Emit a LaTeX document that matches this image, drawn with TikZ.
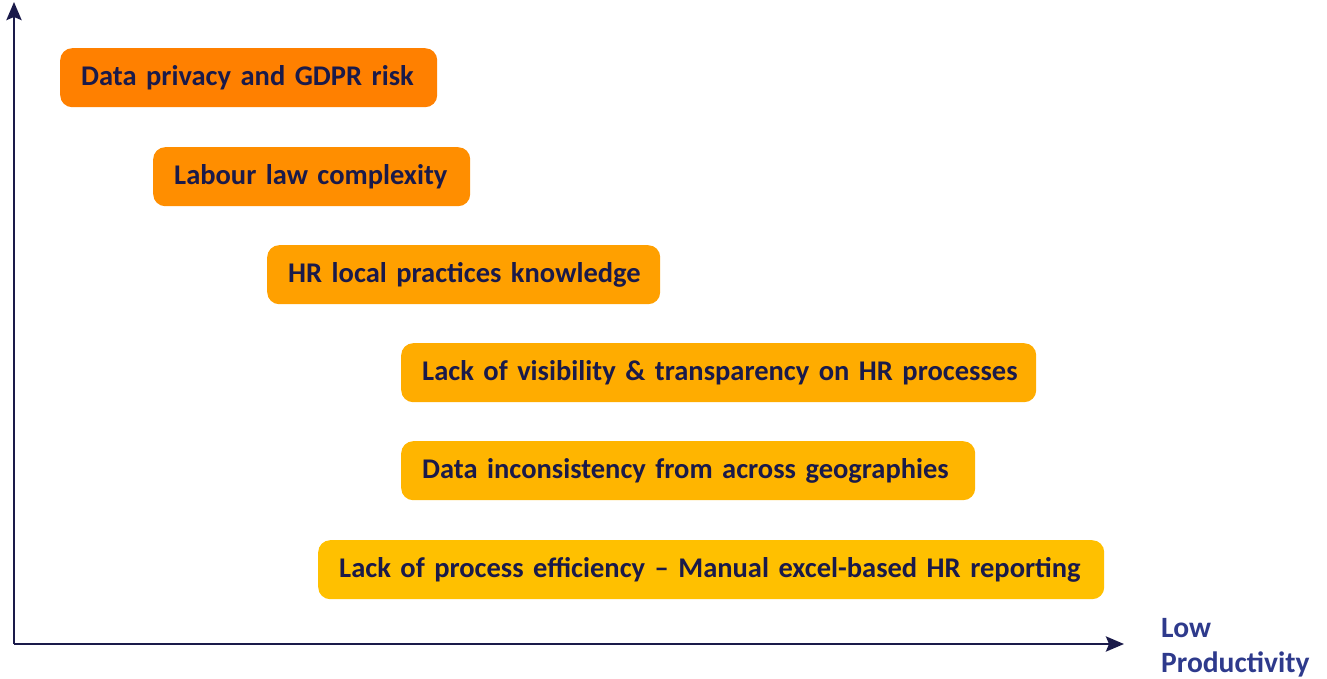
\documentclass[tikz,border=0pt]{standalone}
\usepackage{fontspec}
\setmainfont{Carlito}
\usetikzlibrary{arrows.meta}
\definecolor{ink}{HTML}{1A1A4A}
\definecolor{labelblue}{HTML}{2E3A8C}
\definecolor{c1}{HTML}{FF8000}
\definecolor{c2}{HTML}{FF8E00}
\definecolor{c3}{HTML}{FFA000}
\definecolor{c4}{HTML}{FFAC00}
\definecolor{c5}{HTML}{FFB500}
\definecolor{c6}{HTML}{FFC000}
\begin{document}
\begin{tikzpicture}[x=1pt,y=-1pt,
  issue/.style={rounded corners=12pt, anchor=north west, minimum height=59pt,
    inner xsep=21pt, inner ysep=0pt, align=left, text=ink,
    font=\fontsize{28.5}{32}\selectfont\bfseries},
  axis/.style={draw=ink, line width=2.8pt, -{Stealth[length=18pt,width=15pt,inset=3pt]}}]
\useasboundingbox (0,0) rectangle (1327,679);
% axes
\coordinate (origin) at (14,644);
\coordinate (ytop) at (14,2);
\coordinate (xend) at (1124,644);
\draw[axis] (origin) -- (ytop);
\draw[axis] (origin) -- (xend);
% issue boxes (single-line labels, left aligned)
\node[issue, fill=c1, text width=335pt] (b1) at (60,48) {\mbox{Data privacy and GDPR risk}};
\node[issue, fill=c2, text width=275pt] (b2) at (153,147) {\mbox{Labour law complexity}};
\node[issue, fill=c3, text width=351pt] (b3) at (267,245) {\mbox{HR local practices knowledge}};
\node[issue, fill=c4, text width=593pt] (b4) at (401,343) {\mbox{Lack of visibility \& transparency on HR processes}};
\node[issue, fill=c5, text width=532pt] (b5) at (401,441) {\mbox{Data inconsistency from across geographies}};
\node[issue, fill=c6, text width=744pt] (b6) at (318,540) {\mbox{Lack of process efficiency – Manual excel-based HR reporting}};
% axis label
\node[anchor=west, align=left, text=labelblue, font=\fontsize{29.5}{35}\selectfont\bfseries,
  inner sep=0pt] (lbl) at (1161,648) {Low\\Productivity};
\end{tikzpicture}
\end{document}
